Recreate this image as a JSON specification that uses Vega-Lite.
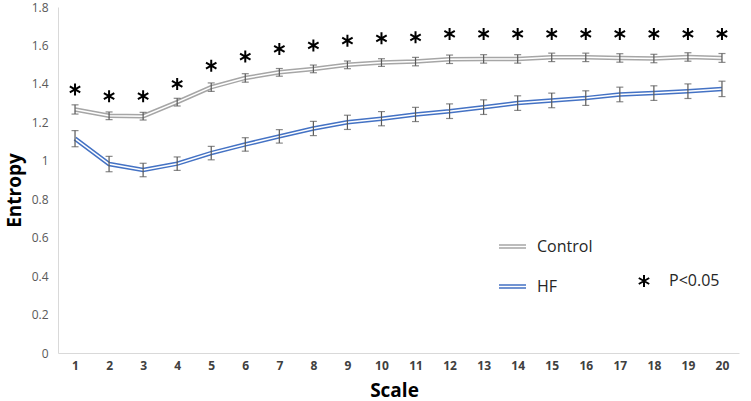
{
  "$schema": "https://vega.github.io/schema/vega-lite/v6.json",
  "autosize": "none",
  "width": 681,
  "height": 346,
  "padding": {"left": 58, "top": 7, "right": 12, "bottom": 48},
  "background": "white",
  "config": {"view": {"stroke": null}, "font": "Open Sans"},
  "datasets": {
    "means": [
      {"scale": 1, "group": "Control", "entropy": 1.267, "err": 0.024},
      {"scale": 2, "group": "Control", "entropy": 1.234, "err": 0.02},
      {"scale": 3, "group": "Control", "entropy": 1.232, "err": 0.02},
      {"scale": 4, "group": "Control", "entropy": 1.305, "err": 0.02},
      {"scale": 5, "group": "Control", "entropy": 1.383, "err": 0.022},
      {"scale": 6, "group": "Control", "entropy": 1.431, "err": 0.022},
      {"scale": 7, "group": "Control", "entropy": 1.46, "err": 0.02},
      {"scale": 8, "group": "Control", "entropy": 1.478, "err": 0.02},
      {"scale": 9, "group": "Control", "entropy": 1.499, "err": 0.02},
      {"scale": 10, "group": "Control", "entropy": 1.511, "err": 0.02},
      {"scale": 11, "group": "Control", "entropy": 1.516, "err": 0.022},
      {"scale": 12, "group": "Control", "entropy": 1.528, "err": 0.022},
      {"scale": 13, "group": "Control", "entropy": 1.53, "err": 0.022},
      {"scale": 14, "group": "Control", "entropy": 1.53, "err": 0.022},
      {"scale": 15, "group": "Control", "entropy": 1.538, "err": 0.022},
      {"scale": 16, "group": "Control", "entropy": 1.538, "err": 0.022},
      {"scale": 17, "group": "Control", "entropy": 1.535, "err": 0.022},
      {"scale": 18, "group": "Control", "entropy": 1.532, "err": 0.022},
      {"scale": 19, "group": "Control", "entropy": 1.54, "err": 0.022},
      {"scale": 20, "group": "Control", "entropy": 1.535, "err": 0.023},
      {"scale": 1, "group": "HF", "entropy": 1.115, "err": 0.042},
      {"scale": 2, "group": "HF", "entropy": 0.983, "err": 0.04},
      {"scale": 3, "group": "HF", "entropy": 0.952, "err": 0.035},
      {"scale": 4, "group": "HF", "entropy": 0.985, "err": 0.035},
      {"scale": 5, "group": "HF", "entropy": 1.04, "err": 0.035},
      {"scale": 6, "group": "HF", "entropy": 1.085, "err": 0.035},
      {"scale": 7, "group": "HF", "entropy": 1.127, "err": 0.035},
      {"scale": 8, "group": "HF", "entropy": 1.168, "err": 0.037},
      {"scale": 9, "group": "HF", "entropy": 1.2, "err": 0.037},
      {"scale": 10, "group": "HF", "entropy": 1.219, "err": 0.037},
      {"scale": 11, "group": "HF", "entropy": 1.241, "err": 0.037},
      {"scale": 12, "group": "HF", "entropy": 1.258, "err": 0.038},
      {"scale": 13, "group": "HF", "entropy": 1.279, "err": 0.038},
      {"scale": 14, "group": "HF", "entropy": 1.3, "err": 0.038},
      {"scale": 15, "group": "HF", "entropy": 1.314, "err": 0.038},
      {"scale": 16, "group": "HF", "entropy": 1.326, "err": 0.038},
      {"scale": 17, "group": "HF", "entropy": 1.345, "err": 0.038},
      {"scale": 18, "group": "HF", "entropy": 1.352, "err": 0.038},
      {"scale": 19, "group": "HF", "entropy": 1.362, "err": 0.038},
      {"scale": 20, "group": "HF", "entropy": 1.374, "err": 0.04}
    ],
    "stars": [
      {"scale": 1, "star": 1.371},
      {"scale": 2, "star": 1.336},
      {"scale": 3, "star": 1.336},
      {"scale": 4, "star": 1.4},
      {"scale": 5, "star": 1.495},
      {"scale": 6, "star": 1.542},
      {"scale": 7, "star": 1.582},
      {"scale": 8, "star": 1.6},
      {"scale": 9, "star": 1.625},
      {"scale": 10, "star": 1.637},
      {"scale": 11, "star": 1.642},
      {"scale": 12, "star": 1.66},
      {"scale": 13, "star": 1.66},
      {"scale": 14, "star": 1.66},
      {"scale": 15, "star": 1.66},
      {"scale": 16, "star": 1.66},
      {"scale": 17, "star": 1.66},
      {"scale": 18, "star": 1.66},
      {"scale": 19, "star": 1.66},
      {"scale": 20, "star": 1.66}
    ]
  },
  "encoding": {
    "x": {
      "field": "scale",
      "type": "quantitative",
      "scale": {"domain": [0.5, 20.5], "nice": false, "zero": false},
      "axis": {
        "values": [1, 2, 3, 4, 5, 6, 7, 8, 9, 10, 11, 12, 13, 14, 15, 16, 17, 18, 19, 20],
        "grid": false,
        "ticks": false,
        "domainColor": "#D9D9D9",
        "labelColor": "#404040",
        "labelFontSize": 12,
        "labelFontWeight": "bold",
        "labelPadding": 7,
        "title": "Scale",
        "titleFontSize": 19,
        "titleFontWeight": "bold",
        "titleColor": "#000000",
        "titleX": 336,
        "titleY": 37,
        "titleBaseline": "middle"
      }
    },
    "y": {
      "field": "entropy",
      "type": "quantitative",
      "scale": {"domain": [0, 1.8], "nice": false},
      "axis": {
        "values": [0, 0.2, 0.4, 0.6, 0.8, 1, 1.2, 1.4, 1.6, 1.8],
        "format": "~g",
        "grid": false,
        "ticks": false,
        "domainColor": "#D9D9D9",
        "labelColor": "#595959",
        "labelFontSize": 12,
        "labelPadding": 10,
        "title": "Entropy",
        "titleFontSize": 19,
        "titleFontWeight": "bold",
        "titleColor": "#000000",
        "titleAngle": -90,
        "titleX": -44,
        "titleY": 183,
        "titleAlign": "center",
        "titleBaseline": "middle"
      }
    }
  },
  "layer": [
    {
      "data": {"name": "means"},
      "mark": {"type": "line", "strokeWidth": 4.5},
      "encoding": {
        "color": {
          "field": "group",
          "type": "nominal",
          "scale": {"domain": ["Control", "HF"], "range": ["#A6A6A6", "#4472C4"]},
          "legend": {
            "orient": "none",
            "legendX": 440,
            "legendY": 225,
            "title": null,
            "padding": 0,
            "symbolType": "M-1,-0.11H1M-1,0.11H1",
            "symbolSize": 729,
            "symbolStrokeWidth": 1.5,
            "labelFontSize": 16,
            "labelColor": "#262626",
            "labelOffset": 10,
            "labelExpr": "datum.label === 'HF' ? '\u00a0\u00a0\u00a0HF' : datum.label",
            "rowPadding": 17
          }
        }
      }
    },
    {
      "data": {"name": "means"},
      "mark": {"type": "line", "strokeWidth": 1.5, "color": "white"},
      "encoding": {"detail": {"field": "group", "type": "nominal"}}
    },
    {
      "data": {"name": "means"},
      "mark": {"type": "errorbar", "color": "#595959", "thickness": 1.2, "ticks": {"size": 7, "thickness": 1.2, "color": "#595959"}},
      "encoding": {
        "yError": {"field": "err"},
        "detail": {"field": "group", "type": "nominal"}
      }
    },
    {
      "data": {"name": "stars"},
      "mark": {"type": "point", "filled": false, "stroke": "black", "strokeWidth": 2, "size": 144, "opacity": 1},
      "encoding": {
        "y": {"field": "star", "type": "quantitative"},
        "shape": {
          "datum": "P<0.05",
          "scale": {"range": ["M0,-1L0,1M-0.87,-0.5L0.87,0.5M-0.87,0.5L0.87,-0.5"]},
          "legend": {
            "orient": "none",
            "legendX": 578,
            "legendY": 266,
            "title": null,
            "padding": 0,
            "symbolSize": 144,
            "symbolStrokeColor": "black",
            "symbolStrokeWidth": 2,
            "labelFontSize": 16,
            "labelColor": "#262626",
            "labelOffset": 17
          }
        }
      }
    }
  ]
}
